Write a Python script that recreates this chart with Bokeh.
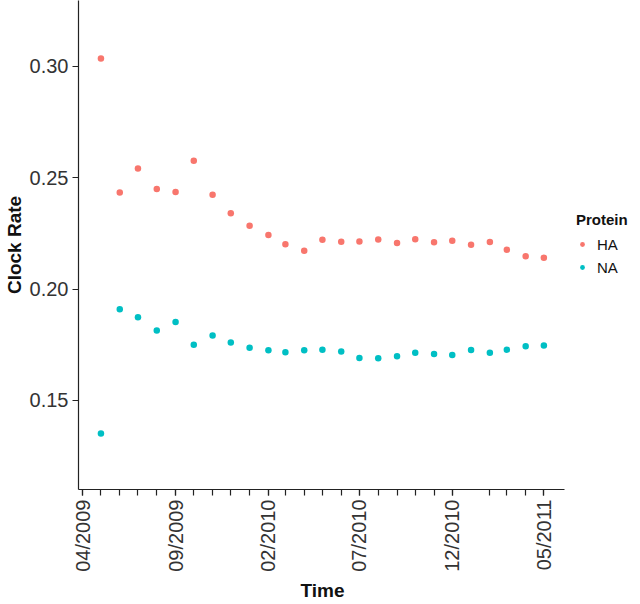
import math
import pandas as pd
from bokeh.plotting import figure
from bokeh.models import (ColumnDataSource, FixedTicker, DatetimeTickFormatter,
                          Legend, LegendItem, Range1d, NumeralTickFormatter, Title)
from bokeh.embed import file_html
from bokeh.resources import INLINE

# ---- data ----
months = ["2009-05", "2009-06", "2009-07", "2009-08", "2009-09", "2009-10",
          "2009-11", "2009-12", "2010-01", "2010-02", "2010-03", "2010-04",
          "2010-05", "2010-06", "2010-07", "2010-08", "2010-09", "2010-10",
          "2010-11", "2010-12", "2011-01", "2011-02", "2011-03", "2011-04",
          "2011-05"]
ha_rate = [0.3036, 0.2434, 0.2542, 0.2449, 0.2436, 0.2576, 0.2424, 0.2341,
           0.2284, 0.2243, 0.2201, 0.2172, 0.2222, 0.2213, 0.2214, 0.2223,
           0.2207, 0.2224, 0.2210, 0.2217, 0.2199, 0.2211, 0.2177, 0.2148,
           0.2141]
na_rate = [0.1352, 0.1910, 0.1873, 0.1814, 0.1852, 0.1750, 0.1792, 0.1760,
           0.1737, 0.1725, 0.1716, 0.1725, 0.1728, 0.1720, 0.1690, 0.1689,
           0.1698, 0.1714, 0.1708, 0.1704, 0.1727, 0.1714, 0.1728, 0.1743,
           0.1747]
labeled_months = ["2009-04", "2009-09", "2010-02", "2010-07", "2010-12", "2011-05"]
tick_months = ["2009-04", "2009-05", "2009-06", "2009-07", "2009-08", "2009-09",
               "2009-10", "2009-11", "2009-12", "2010-01", "2010-02", "2010-03",
               "2010-04", "2010-05", "2010-06", "2010-07", "2010-08", "2010-09",
               "2010-10", "2010-11", "2010-12", "2011-02", "2011-03", "2011-04",
               "2011-05"]
y_ticks = [0.15, 0.20, 0.25, 0.30]
series_names = ["HA", "NA"]
series_colors = ["#F8766D", "#00BFC4"]


def ms(s):
    return float(pd.Timestamp(s).value // 10**6)


t_ms = [ms(m + "-01") for m in months]
src_ha = ColumnDataSource(dict(t=t_ms, v=ha_rate))
src_na = ColumnDataSource(dict(t=t_ms, v=na_rate))

# axis extent (drawn axis line) and frame extent (wider, to hold the legend)
axis_start = ms("2009-03-25")
axis_end = ms("2011-06-04")
AXIS_W = 486          # pixel length of the drawn x axis
FW, FH = 552, 489     # frame size
frame_end = axis_start + (axis_end - axis_start) * FW / AXIS_W

p = figure(frame_width=FW, frame_height=FH, x_axis_type="datetime",
           output_backend="svg", toolbar_location=None,
           x_range=Range1d(axis_start, frame_end),
           y_range=Range1d(0.110, 0.3296),
           min_border_left=72, min_border_bottom=100, min_border_top=0,
           min_border_right=0)

p.background_fill_color = "white"
p.border_fill_color = "white"
p.outline_line_color = None
p.xgrid.grid_line_color = None
p.ygrid.grid_line_color = None

r_ha = p.scatter("t", "v", source=src_ha, size=6.5, fill_color=series_colors[0],
                 line_color=None)
r_na = p.scatter("t", "v", source=src_na, size=6.5, fill_color=series_colors[1],
                 line_color=None)

# x axis
p.xaxis.bounds = (axis_start, axis_end)
p.xaxis.ticker = FixedTicker(ticks=[ms(m + "-01") for m in labeled_months],
                             minor_ticks=[ms(m + "-01") for m in tick_months])
fmt = "%m/%Y"
p.xaxis.formatter = DatetimeTickFormatter(
    milliseconds=fmt, seconds=fmt, minsec=fmt, minutes=fmt, hourmin=fmt,
    hours=fmt, days=fmt, months=fmt, years=fmt)
p.xaxis.major_label_orientation = math.pi / 2

# y axis
p.yaxis.ticker = FixedTicker(ticks=y_ticks)
p.yaxis.formatter = NumeralTickFormatter(format="0.00")
p.yaxis.axis_label = "Clock Rate"

for ax in (p.xaxis, p.yaxis):
    ax.axis_line_color = "#222222"
    ax.axis_line_width = 1.2
    ax.major_tick_line_color = "#222222"
    ax.major_tick_line_width = 1.2
    ax.minor_tick_line_color = "#222222"
    ax.minor_tick_line_width = 1.2
    ax.major_tick_in = 0
    ax.major_tick_out = 6
    ax.minor_tick_in = 0
    ax.minor_tick_out = 6
    ax.major_label_text_font = "Liberation Sans"
    ax.major_label_text_font_size = "20px"
    ax.major_label_text_color = "#333333"
    ax.major_label_standoff = 4
    ax.axis_label_text_font = "Liberation Sans"
    ax.axis_label_text_font_size = "19px"
    ax.axis_label_text_font_style = "bold"
    ax.axis_label_text_color = "#111111"
    ax.axis_label_standoff = 2

p.yaxis.minor_tick_out = 0

# x-axis title, centred under the drawn axis rather than the wider frame
x_title = Title(text="Time", align="left", offset=222, standoff=6,
                text_font="Liberation Sans", text_font_size="19px",
                text_font_style="bold", text_color="#111111")
p.add_layout(x_title, "below")

legend = Legend(items=[LegendItem(label=series_names[0], renderers=[r_ha]),
                       LegendItem(label=series_names[1], renderers=[r_na])],
                title="Protein", location=(AXIS_W + 12, 212))
legend.title_text_font = "Liberation Sans"
legend.title_text_font_style = "bold"
legend.title_text_font_size = "15px"
legend.title_text_color = "#111111"
legend.label_text_font = "Liberation Sans"
legend.label_text_font_size = "15px"
legend.label_text_color = "#111111"
legend.border_line_color = None
legend.background_fill_alpha = 0
legend.margin = 0
legend.padding = 2
legend.glyph_width = 12
legend.label_standoff = 9
legend.spacing = 3
legend.title_standoff = 6
p.add_layout(legend, "center")

open("out.html", "w").write(file_html(p, INLINE))
